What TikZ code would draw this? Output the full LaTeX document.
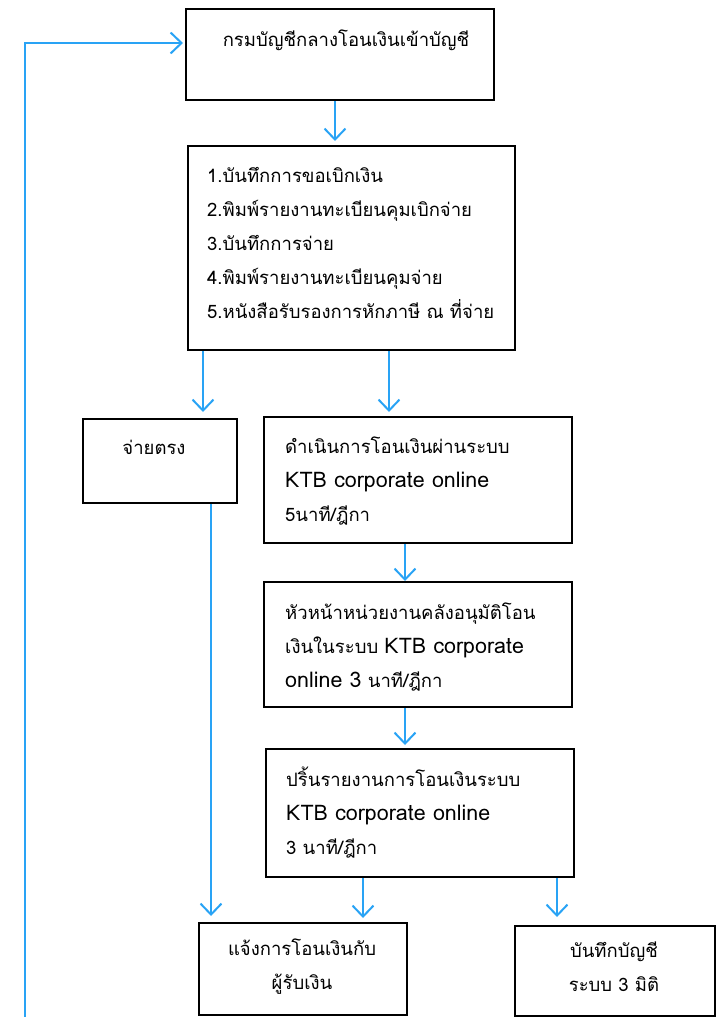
\documentclass[tikz,border=0pt]{standalone}
\usepackage{fontspec}
\setmainfont[Script=Thai]{Loma}
\newfontfamily\latfont[Scale=1.16]{Loma}
\usetikzlibrary{arrows.meta,positioning}
\definecolor{flowblue}{RGB}{41,163,245}

\tikzset{
  box/.style={draw=black,line width=2pt,rectangle,anchor=north west,inner sep=0pt},
  txt/.style={inner sep=0pt,font={\fontsize{18.5}{34}\selectfont}},
  arr/.style={draw=flowblue,line width=2pt,-{Straight Barb[length=11pt,width=21pt,line width=2pt]}}
}

\begin{document}
\begin{tikzpicture}[x=1pt,y=-1pt]
    \useasboundingbox (0,0) rectangle (722,1017);
    % boxes
    \node[box,minimum width=308pt,minimum height=91pt] (transfer) at (185,8) {};
    \node[box,minimum width=327pt,minimum height=204pt] (record) at (187,145) {};
    \node[box,minimum width=154pt,minimum height=84pt] (direct) at (82,418) {};
    \node[box,minimum width=308pt,minimum height=126pt] (ktb) at (263,416) {};
    \node[box,minimum width=308pt,minimum height=125pt] (approve) at (263,581) {};
    \node[box,minimum width=308pt,minimum height=128pt] (print) at (265,748) {};
    \node[box,minimum width=208pt,minimum height=92pt] (notify) at (198,922) {};
    \node[box,minimum width=200pt,minimum height=90pt] (account) at (514,925) {};

    % texts
    \node[txt] (transfer_t) at (346,40) {กรมบัญชีกลางโอนเงินเข้าบัญชี};
    \node[txt,anchor=west,align=left] (record_t) at (207,243)
      {1.บันทึกการขอเบิกเงิน\\2.พิมพ์รายงานทะเบียนคุมเบิกจ่าย\\3.บันทึกการจ่าย\\4.พิมพ์รายงานทะเบียนคุมจ่าย\\5.หนังสือรับรองการหักภาษี ณ ที่จ่าย};
    \node[txt] (direct_t) at (154,447) {จ่ายตรง};
    \node[txt,anchor=west,align=left] (ktb_t) at (285,481)
      {ดำเนินการโอนเงินผ่านระบบ\\{\latfont KTB corporate online}\\5นาที/ฎีกา};
    \node[txt,anchor=west,align=left] (approve_t) at (285,647)
      {หัวหน้าหน่วยงานคลังอนุมัติโอน\\เงินในระบบ {\latfont KTB corporate}\\{\latfont online 3} นาที/ฎีกา};
    \node[txt,anchor=west,align=left] (print_t) at (286,813)
      {ปริ้นรายงานการโอนเงินระบบ\\{\latfont KTB corporate online}\\3 นาที/ฎีกา};
    \node[txt,align=center] (notify_t) at (302,967) {แจ้งการโอนเงินกับ\\ผู้รับเงิน};
    \node[txt,align=center] (account_t) at (614,967) {บันทึกบัญชี\\ระบบ 3 มิติ};

    % connectors
    \coordinate (loop_start) at (25,1017);
    \draw[arr] (loop_start) |- ([xshift=-2pt]transfer.west |- 0,43);
    \draw[arr] (transfer.south -| 335,0) -- ([yshift=4pt]record.north -| 335,0);
    \draw[arr] (record.south -| 203,0) -- ([yshift=6pt]direct.north -| 203,0);
    \draw[arr] (record.south -| 389,0) -- ([yshift=4pt]ktb.north -| 389,0);
    \draw[arr] (direct.south -| 211,0) -- ([yshift=6pt]notify.north -| 211,0);
    \draw[arr] (ktb.south -| 405,0) -- (approve.north -| 405,0);
    \draw[arr] (approve.south -| 405,0) -- ([yshift=3pt]print.north -| 405,0);
    \draw[arr] (print.south -| 363,0) -- ([yshift=4pt]notify.north -| 363,0);
    \draw[arr] (print.south -| 557,0) -- ([yshift=8pt]account.north -| 557,0);
\end{tikzpicture}
\end{document}
